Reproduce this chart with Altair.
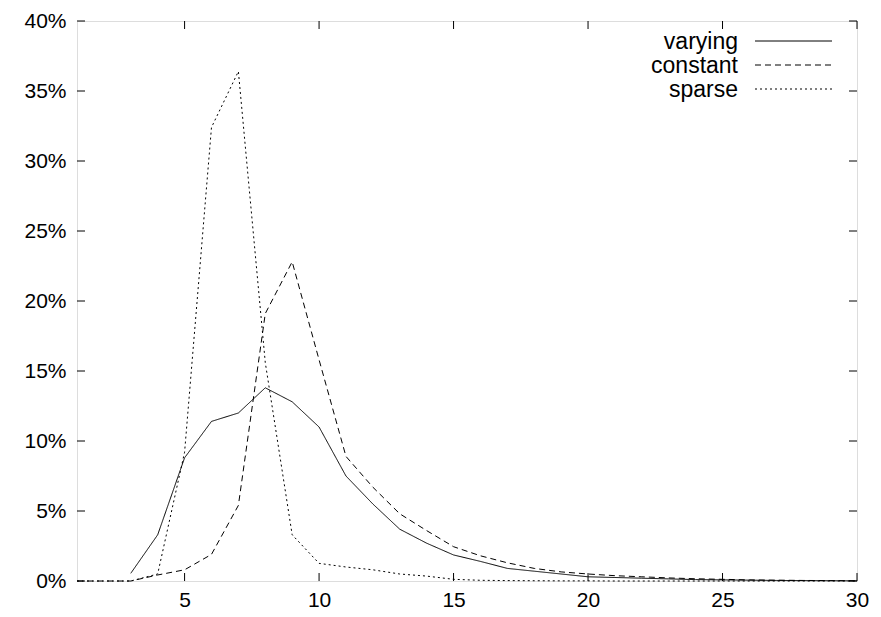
import altair as alt
import pandas as pd

# ---- data ----
x_all = list(range(1, 31))
x_varying = list(range(3, 31))
varying = [0.55, 3.3, 8.8, 11.4, 12.0, 13.8, 12.8, 11.0, 7.5, 5.5, 3.7, 2.7, 1.86, 1.4,
           0.9, 0.7, 0.5, 0.3, 0.25, 0.2, 0.15, 0.1, 0.08, 0.06, 0.04, 0.03, 0.02, 0.01]
constant = [0, 0, 0, 0.43, 0.8, 1.9, 5.4, 19.1, 22.8, 15.8, 8.9, 6.7, 4.8, 3.6, 2.45,
            1.8, 1.3, 0.9, 0.65, 0.5, 0.38, 0.3, 0.22, 0.16, 0.12, 0.08, 0.06, 0.04, 0.03, 0.02]
sparse = [0, 0, 0, 0.5, 9.2, 32.4, 36.4, 15.6, 3.3, 1.26, 1.0, 0.8, 0.5, 0.35, 0.12,
          0.05, 0.03, 0.02, 0.01, 0.01, 0, 0, 0, 0, 0, 0, 0, 0, 0, 0]

series_names = ["varying", "constant", "sparse"]
dashes = [[1, 0], [6, 4], [2, 3]]
x_ticks = [5, 10, 15, 20, 25, 30]
y_ticks = [0, 5, 10, 15, 20, 25, 30, 35, 40]

W, H = 780, 560
FONT = "Liberation Sans"

rows = []
for xv, v in zip(x_varying, varying):
    rows.append({"x": xv, "y": v, "series": "varying"})
for xv, v in zip(x_all, constant):
    rows.append({"x": xv, "y": v, "series": "constant"})
for xv, v in zip(x_all, sparse):
    rows.append({"x": xv, "y": v, "series": "sparse"})
df = pd.DataFrame(rows)

xscale = alt.Scale(domain=[1, 30], nice=False, zero=False)
yscale = alt.Scale(domain=[0, 40], nice=False)

lines = alt.Chart(df).mark_line(color="black", strokeWidth=1).encode(
    x=alt.X("x:Q", scale=xscale,
            axis=alt.Axis(values=x_ticks, title=None, tickSize=0, domain=False, grid=False,
                          labelFontSize=21, labelFont=FONT, labelColor="black",
                          labelPadding=8, labelFlush=False)),
    y=alt.Y("y:Q", scale=yscale,
            axis=alt.Axis(values=y_ticks, title=None, tickSize=0, domain=False, grid=False,
                          labelFontSize=21, labelFont=FONT, labelColor="black",
                          labelPadding=11, labelExpr="datum.value + '%'")),
    strokeDash=alt.StrokeDash("series:N", scale=alt.Scale(domain=series_names, range=dashes),
                              legend=None),
    detail="series:N",
)

xt = pd.DataFrame({"v": x_ticks})
yt = pd.DataFrame({"v": y_ticks})
tick_len = 8
xt_bottom = alt.Chart(xt).mark_rule(color="black", strokeWidth=1).encode(
    x=alt.X("v:Q", scale=xscale), y=alt.value(H), y2=alt.value(H - tick_len))
xt_top = alt.Chart(xt).mark_rule(color="black", strokeWidth=1).encode(
    x=alt.X("v:Q", scale=xscale), y=alt.value(0), y2=alt.value(tick_len))
yt_left = alt.Chart(yt).mark_rule(color="black", strokeWidth=1).encode(
    y=alt.Y("v:Q", scale=yscale), x=alt.value(0), x2=alt.value(tick_len))
yt_right = alt.Chart(yt).mark_rule(color="black", strokeWidth=1).encode(
    y=alt.Y("v:Q", scale=yscale), x=alt.value(W), x2=alt.value(W - tick_len))

legend_layers = []
leg_df = pd.DataFrame({"series": series_names})
for i, name in enumerate(series_names):
    ly = 21 + 24 * i
    d = leg_df[leg_df.series == name]
    legend_layers.append(
        alt.Chart(d).mark_text(align="right", baseline="middle", fontSize=23, font=FONT,
                               color="black").encode(
            text="series:N", x=alt.value(661), y=alt.value(ly)))
    legend_layers.append(
        alt.Chart(d).mark_rule(color="black", strokeWidth=1, strokeDash=dashes[i]).encode(
            x=alt.value(678), x2=alt.value(755), y=alt.value(ly - 1)))

chart = alt.layer(lines, xt_bottom, xt_top, yt_left, yt_right, *legend_layers).properties(
    width=W, height=H,
    autosize=alt.AutoSizeParams(type="none"),
    padding={"left": 69, "top": 13, "right": 14, "bottom": 28},
).configure_view(stroke="black", strokeWidth=1).configure(background="white")

chart.save("out.html", embed_options={"renderer": "svg", "actions": False})
